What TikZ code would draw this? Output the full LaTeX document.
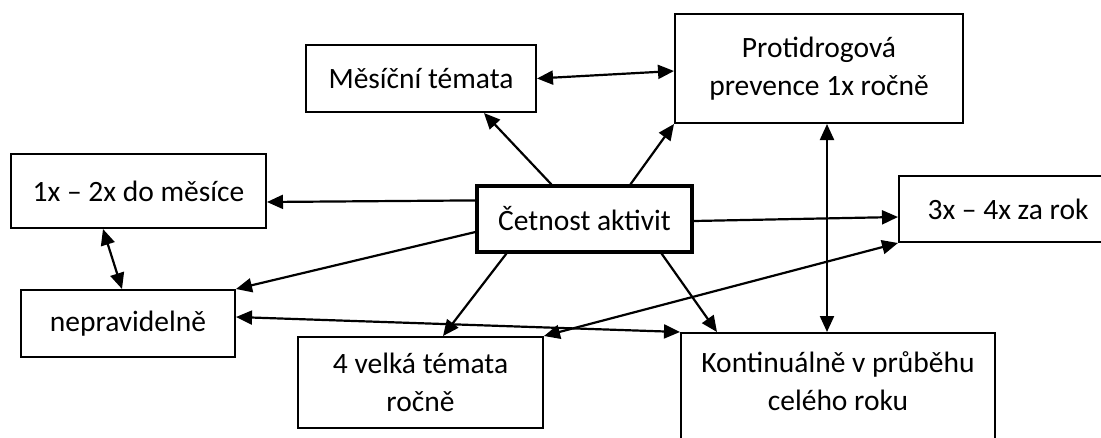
\documentclass[tikz,border=0pt]{standalone}
\usepackage{fontspec}
\setmainfont{Carlito}
\usepackage{tikz}
\usetikzlibrary{calc,arrows.meta}

\tikzset{
	box/.style={draw,line width=2pt,fill=white,align=center,inner sep=0pt,font=\fontsize{29.5}{38}\selectfont},
	link/.style={line width=2.2pt,-{Triangle[length=16pt,width=14pt]}},
	both/.style={line width=2.2pt,{Triangle[length=16pt,width=14pt]}-{Triangle[length=16pt,width=14pt]}}
}

\begin{document}
\begin{tikzpicture}[x=1pt,y=-1pt]
		\useasboundingbox[fill=white] (0,0) rectangle (1101,437);

		% boxes
		\node[box,minimum width=230,minimum height=67] (mesicni) at (421,78.5) {Měsíční témata};
		\node[box,minimum width=288,minimum height=109] (protidrog) at (819,68.5) {Protidrogová\\prevence 1x ročně};
		\node[box,minimum width=255,minimum height=74] (mesic12) at (138.5,191) {1x – 2x do měsíce};
		\node[box,line width=3.2pt,minimum width=215,minimum height=66] (cetnost) at (584.5,219) {Četnost aktivit};
		\node[box,minimum width=218,minimum height=66] (rok34) at (1008,209) {3x – 4x za rok};
		\node[box,minimum width=214,minimum height=67] (neprav) at (128,323.5) {nepravidelně};
		\node[box,minimum width=245,minimum height=91] (velka4) at (420.5,382.5) {4 velká témata\\ročně};
		\node[box,minimum width=314,minimum height=134] (kontinual) at (838,400) {Kontinuálně v průběhu\\celého roku\\~};

		% from the centre
		\draw[link] ($(cetnost.north west)+(76,0)$) -- ($(mesicni.south east)+(-53,0)$);
		\draw[link] ($(cetnost.north west)+(155,0)$) -- (protidrog.south west);
		\draw[link] ($(cetnost.north west)+(0,16)$) -- ($(mesic12.east)+(0,11)$);
		\draw[link] ($(cetnost.east)+(0,2)$) -- ($(rok34.west)+(0,8)$);
		\draw[link] ($(cetnost.west)+(0,13)$) -- (neprav.north east);
		\draw[link] ($(cetnost.south west)+(31,0)$) -- ($(velka4.north)+(22.5,0)$);
		\draw[link] ($(cetnost.south east)+(-32,0)$) -- ($(kontinual.north west)+(37,0)$);

		% between the others
		\draw[both] (mesicni.east) -- ($(protidrog.west)+(0,2.5)$);
		\draw[both] ($(protidrog.south)+(8,0)$) -- ($(kontinual.north)+(-11,0)$);
		\draw[both] ($(mesic12.south)+(-35.5,0)$) -- ($(neprav.north)+(-6,0)$);
		\draw[both] ($(neprav.east)+(0,-6.5)$) -- (kontinual.north west);
		\draw[both] (velka4.north east) -- (rok34.south west);
	\end{tikzpicture}
\end{document}
